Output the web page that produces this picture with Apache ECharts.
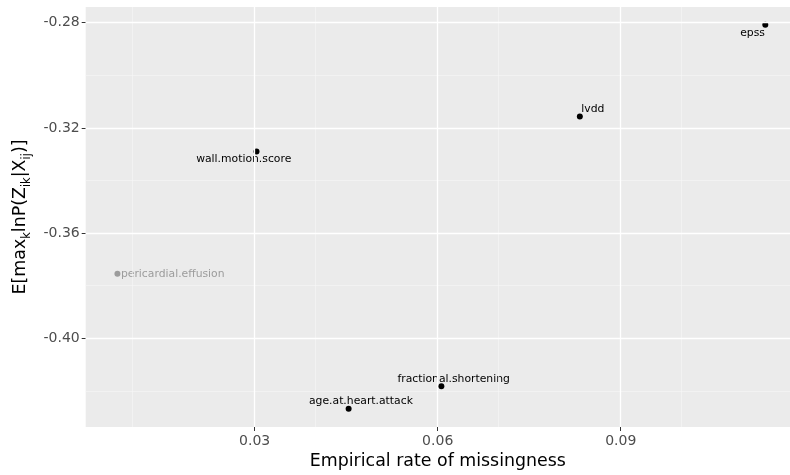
<!DOCTYPE html>
<html>
<head>
<meta charset="utf-8">
<script src="https://cdn.jsdelivr.net/npm/echarts@6/dist/echarts.min.js"></script>
<style>
  html, body { margin: 0; padding: 0; background: #ffffff; }
  #chart { width: 790px; height: 475px; }
</style>
</head>
<body>
<div id="chart"></div>
<script>
// ---- data ----
const names = ['epss', 'lvdd', 'wall.motion.score', 'pericardial.effusion', 'fractional.shortening', 'age.at.heart.attack'];
const missingRate = [0.1137, 0.0833, 0.0303, 0.0075, 0.0606, 0.0454];
const expectedMaxLogProb = [-0.2808, -0.3157, -0.3290, -0.3755, -0.4182, -0.4268];
const highlighted = [true, true, true, false, true, true];
const xTicks = [0.03, 0.06, 0.09];
const yTicks = [-0.40, -0.36, -0.32, -0.28];
const xMinorLines = [0.015, 0.045, 0.075, 0.105];
const yMinorLines = [-0.42, -0.38, -0.34, -0.30];

// ---- layout / style (not data) ----
const labelPlacement = {
  'epss': { align: 'center', offset: [-12.7, 8.3] },
  'lvdd': { align: 'left', offset: [1.5, -7] },
  'wall.motion.score': { align: 'center', offset: [-12.8, 7.6] },
  'pericardial.effusion': { align: 'left', offset: [3.5, 0] },
  'fractional.shortening': { align: 'center', offset: [12.3, -7.4] },
  'age.at.heart.attack': { align: 'center', offset: [12.3, -7.6] }
};
const FONT = 'DejaVu Sans';
const GREY = '#9c9c9c';

const points = names.map((n, i) => {
  const col = highlighted[i] ? '#000000' : GREY;
  const pl = labelPlacement[n];
  return {
    name: n,
    value: [missingRate[i], expectedMaxLogProb[i]],
    itemStyle: { color: col, opacity: 1 },
    label: {
      show: true,
      formatter: n,
      position: 'inside',
      align: pl.align,
      verticalAlign: 'middle',
      offset: pl.offset,
      color: col,
      opacity: 1,
      fontFamily: FONT,
      fontSize: 10.8
    }
  };
});

const gridLineData = [];
xMinorLines.forEach(v => gridLineData.push({ xAxis: v, lineStyle: { type: 'solid', width: 0.6, color: '#F7F7F7' } }));
yMinorLines.forEach(v => gridLineData.push({ yAxis: v, lineStyle: { type: 'solid', width: 0.6, color: '#F7F7F7' } }));
xTicks.forEach(v => gridLineData.push({ xAxis: v, lineStyle: { type: 'solid', width: 1.3, color: '#FFFFFF' } }));
yTicks.forEach(v => gridLineData.push({ yAxis: v, lineStyle: { type: 'solid', width: 1.3, color: '#FFFFFF' } }));

const chart = echarts.init(document.getElementById('chart'), null, { renderer: 'canvas' });
chart.setOption({
  animation: false,
  backgroundColor: '#ffffff',
  textStyle: { fontFamily: FONT },
  grid: {
    left: 85.7, right: 0, top: 7, bottom: 48,
    show: true, backgroundColor: '#EBEBEB', borderWidth: 0,
    containLabel: false
  },
  xAxis: {
    type: 'value',
    min: 0.0023,
    max: 0.11775,
    name: 'Empirical rate of missingness',
    nameLocation: 'middle',
    nameGap: 24,
    nameTextStyle: { fontFamily: FONT, fontSize: 17.4, color: '#000000', verticalAlign: 'top' },
    axisLine: { show: false },
    splitLine: { show: false },
    axisTick: { show: true, length: 4, customValues: xTicks, lineStyle: { color: '#333333', width: 1 } },
    axisLabel: { customValues: xTicks, formatter: v => v.toFixed(2), fontFamily: FONT, fontSize: 14, color: '#4D4D4D', margin: 7 }
  },
  yAxis: {
    type: 'value',
    min: -0.43373,
    max: -0.27403,
    name: '{n|E[max}{s|k}{n|lnP(Z}{s|ik}{n||X}{s|ij}{n|)]}',
    nameLocation: 'middle',
    nameRotate: 90,
    nameGap: 52,
    nameTextStyle: {
      fontFamily: FONT, fontSize: 17.4, color: '#000000',
      rich: {
        n: { fontFamily: FONT, fontSize: 17.4, color: '#000000', lineHeight: 24, verticalAlign: 'middle' },
        s: { fontFamily: FONT, fontSize: 11.5, color: '#000000', lineHeight: 12, verticalAlign: 'bottom' }
      }
    },
    axisLine: { show: false },
    splitLine: { show: false },
    axisTick: { show: true, length: 4, customValues: yTicks, lineStyle: { color: '#333333', width: 1 } },
    axisLabel: { customValues: yTicks, formatter: v => v.toFixed(2), fontFamily: FONT, fontSize: 14, color: '#4D4D4D', margin: 6 }
  },
  series: [
    {
      type: 'scatter',
      data: [],
      z: 1,
      silent: true,
      markLine: {
        silent: true,
        symbol: ['none', 'none'],
        label: { show: false },
        emphasis: { disabled: true },
        animation: false,
        lineStyle: { type: 'solid' },
        data: gridLineData
      }
    },
    {
      type: 'scatter',
      z: 3,
      symbol: 'circle',
      symbolSize: 6,
      itemStyle: { opacity: 1 },
      data: points
    }
  ]
});
</script>
</body>
</html>
